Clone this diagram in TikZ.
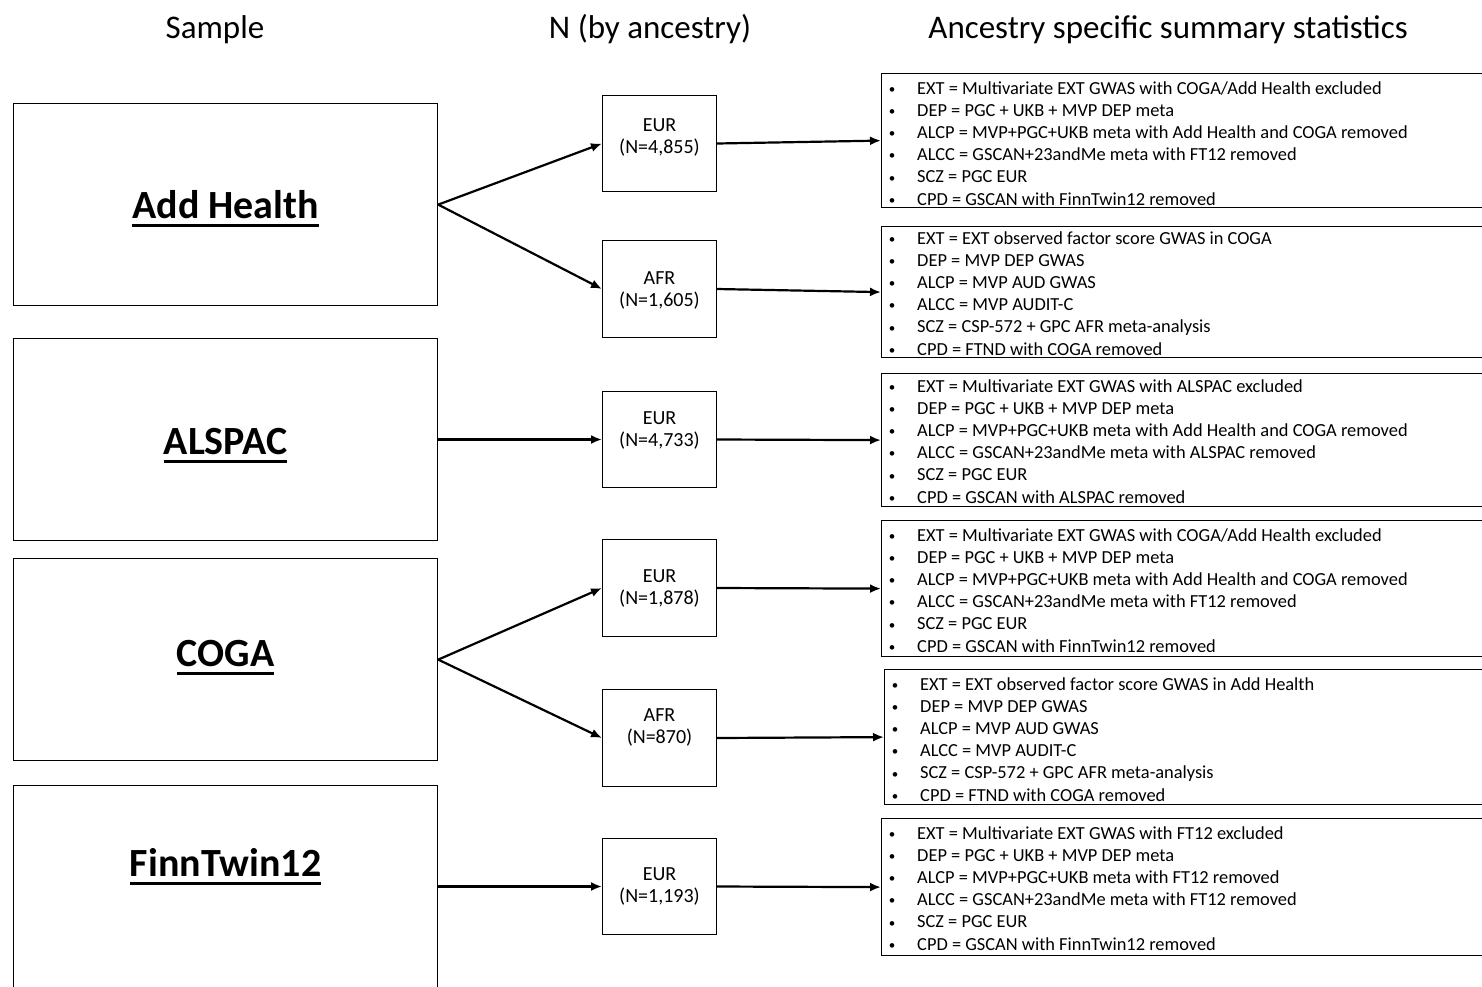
\documentclass[tikz,border=0pt]{standalone}
\usepackage{fontspec}
\setmainfont{Carlito}
\usetikzlibrary{arrows.meta}
\newcommand\bl{\makebox[28pt][l]{\makebox[6pt][c]{\raisebox{0.8pt}{\fontsize{13}{13}\selectfont\textbullet}}}\strut}
\newcommand\ulb[1]{\vtop{\hbox{#1}\kern5pt\hrule height 3pt}}
\begin{document}
\begin{tikzpicture}[x=1pt,y=-1pt,
  head/.style={font=\fontsize{33}{39}\selectfont, text height=21.2pt, text depth=0pt, inner sep=0pt},
  lbox/.style={draw, line width=1.2pt, anchor=north west, minimum width=424pt, minimum height=202pt, inner sep=0pt},
  bigtxt/.style={font=\fontsize{40}{48}\bfseries\selectfont, text height=25.8pt, text depth=0pt, inner sep=0pt, anchor=center},
  mbox/.style={draw, line width=1pt, anchor=north west, minimum width=114pt, minimum height=96pt, inner sep=0pt},
  mtxt/.style={font=\fontsize{20}{22}\selectfont, align=center, inner sep=0pt, anchor=center},
  rbox/.style={draw, line width=1.2pt, anchor=north west, minimum width=620pt, inner sep=0pt},
  rtxt/.style={font=\fontsize{18.4}{22.2}\selectfont, align=left, inner sep=0pt, anchor=north west, xshift=8pt},
  arr/.style={line width=2.2pt, -{Latex[length=11pt,width=9pt]}}
]
\useasboundingbox (0,0) rectangle (1482,986);

% headers
\node[head] (h1) at (215,27.4) {Sample};
\node[head] (h2) at (650,27.4) {N (by ancestry)};
\node[head] (h3) at (1168,27.4) {Ancestry specific summary statistics};

% sample boxes
\node[lbox, label={[bigtxt, yshift=-1pt]center:\ulb{Add Health}}] (ah) at (13,103) {};
\node[lbox, label={[bigtxt, yshift=-2pt]center:\ulb{ALSPAC}}] (al) at (13,338) {};
\node[lbox, label={[bigtxt, yshift=6pt]center:\ulb{COGA}}] (co) at (13,558) {};
\node[lbox, minimum height=210pt, label={[bigtxt, yshift=27pt]center:\ulb{FinnTwin12}}] (ft) at (13,785) {};

% ancestry boxes
\node[mbox, label={[mtxt, yshift=6pt]center:{EUR\\(N=4,855)}}] (e1) at (602,95) {};
\node[mbox, minimum height=97pt, label={[mtxt, yshift=-1.5pt]center:{AFR\\(N=1,605)}}] (a1) at (602,240) {};
\node[mbox, label={[mtxt, yshift=9.5pt]center:{EUR\\(N=4,733)}}] (e2) at (602,391) {};
\node[mbox, minimum height=97pt, label={[mtxt, yshift=-0.5pt]center:{EUR\\(N=1,878)}}] (e3) at (602,539) {};
\node[mbox, minimum height=97pt, label={[mtxt, yshift=11pt]center:{AFR\\(N=870)}}] (a2) at (602,689) {};
\node[mbox, label={[mtxt, yshift=0pt]center:{EUR\\(N=1,193)}}] (e4) at (602,838) {};

% summary statistics boxes
\node[rbox, minimum height=134pt, label={[rtxt, yshift=-5.3pt]north west:{%
\bl EXT = Multivariate EXT GWAS with COGA/Add Health excluded\\
\bl DEP = PGC + UKB + MVP DEP meta\\
\bl ALCP = MVP+PGC+UKB meta with Add Health and COGA removed\\
\bl ALCC = GSCAN+23andMe meta with FT12 removed\\
\bl SCZ = PGC EUR\\
\bl CPD = GSCAN with FinnTwin12 removed}}] (r1) at (881,73) {};

\node[rbox, minimum height=131pt, label={[rtxt, yshift=-2.3pt]north west:{%
\bl EXT = EXT observed factor score GWAS in COGA\\
\bl DEP = MVP DEP GWAS\\
\bl ALCP = MVP AUD GWAS\\
\bl ALCC = MVP AUDIT-C\\
\bl SCZ = CSP-572 + GPC AFR meta-analysis\\
\bl CPD = FTND with COGA removed}}] (r2) at (881,226) {};

\node[rbox, minimum height=133pt, label={[rtxt, yshift=-3.3pt]north west:{%
\bl EXT = Multivariate EXT GWAS with ALSPAC excluded\\
\bl DEP = PGC + UKB + MVP DEP meta\\
\bl ALCP = MVP+PGC+UKB meta with Add Health and COGA removed\\
\bl ALCC = GSCAN+23andMe meta with ALSPAC removed\\
\bl SCZ = PGC EUR\\
\bl CPD = GSCAN with ALSPAC removed}}] (r3) at (881,373) {};

\node[rbox, minimum height=136pt, label={[rtxt, yshift=-5.3pt]north west:{%
\bl EXT = Multivariate EXT GWAS with COGA/Add Health excluded\\
\bl DEP = PGC + UKB + MVP DEP meta\\
\bl ALCP = MVP+PGC+UKB meta with Add Health and COGA removed\\
\bl ALCC = GSCAN+23andMe meta with FT12 removed\\
\bl SCZ = PGC EUR\\
\bl CPD = GSCAN with FinnTwin12 removed}}] (r4) at (881,520) {};

\node[rbox, minimum height=135pt, label={[rtxt, yshift=-5.3pt]north west:{%
\bl EXT = EXT observed factor score GWAS in Add Health\\
\bl DEP = MVP DEP GWAS\\
\bl ALCP = MVP AUD GWAS\\
\bl ALCC = MVP AUDIT-C\\
\bl SCZ = CSP-572 + GPC AFR meta-analysis\\
\bl CPD = FTND with COGA removed}}] (r5) at (884,669) {};

\node[rbox, minimum height=137pt, label={[rtxt, yshift=-5.3pt]north west:{%
\bl EXT = Multivariate EXT GWAS with FT12 excluded\\
\bl DEP = PGC + UKB + MVP DEP meta\\
\bl ALCP = MVP+PGC+UKB meta with FT12 removed\\
\bl ALCC = GSCAN+23andMe meta with FT12 removed\\
\bl SCZ = PGC EUR\\
\bl CPD = GSCAN with FinnTwin12 removed}}] (r6) at (881,818) {};

% connectors
\draw[arr] (ah.east) -- (e1.west);
\draw[arr] (ah.east) -- (a1.west);
\draw[arr] (e1.east) -- (r1.west);
\draw[arr] (a1.east) -- (r2.west);
\draw[arr] (al.east |- e2.west) -- (e2.west);
\draw[arr] (e2.east) -- (r3.west);
\draw[arr] (co.east) -- (e3.west);
\draw[arr] (co.east) -- (a2.west);
\draw[arr] (e3.east) -- (r4.west);
\draw[arr] (a2.east) -- (r5.west);
\draw[arr] (ft.east |- e4.west) -- (e4.west);
\draw[arr] (e4.east) -- (r6.west);
\end{tikzpicture}
\end{document}
